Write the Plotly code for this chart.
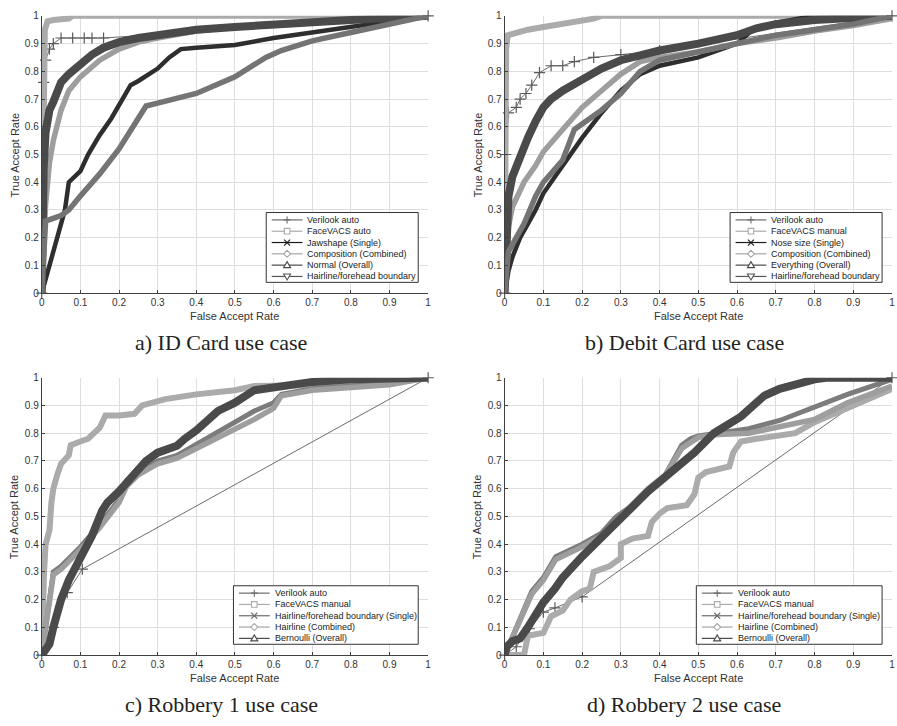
import plotly.graph_objects as go

W, H = 897, 726

TICK_VALS = [0, 0.1, 0.2, 0.3, 0.4, 0.5, 0.6, 0.7, 0.8, 0.9, 1.0]
TICK_TEXT = ['0', '0.1', '0.2', '0.3', '0.4', '0.5', '0.6', '0.7', '0.8', '0.9', '1']
X_TITLE = 'False Accept Rate'
Y_TITLE = 'True Accept Rate'
CAPTIONS = ['a) ID Card use case', 'b) Debit Card use case',
            'c) Robbery 1 use case', 'd) Robbery 2 use case']

# ---------------- Panel a: ID Card ----------------
A_NAMES = ['Verilook auto', 'FaceVACS auto', 'Jawshape (Single)',
           'Composition (Combined)', 'Normal (Overall)', 'Hairline/forehead boundary']
A_VERILOOK_X = [0, 0.005, 0.01, 0.02, 0.03, 0.05, 0.08, 0.11, 0.13, 0.16, 1.0]
A_VERILOOK_Y = [0, 0.76, 0.84, 0.88, 0.90, 0.92, 0.92, 0.92, 0.92, 0.92, 1.0]
A_FACEVACS_X = [0, 0.002, 0.004, 0.008, 0.015, 0.03, 0.07, 0.08, 1.0]
A_FACEVACS_Y = [0, 0.45, 0.80, 0.95, 0.98, 0.985, 0.99, 1.0, 1.0]
A_JAW_X = [0, 0.01, 0.03, 0.05, 0.06, 0.07, 0.1, 0.12, 0.15, 0.18, 0.2, 0.23, 0.25, 0.28,
           0.3, 0.33, 0.36, 0.4, 0.5, 0.6, 0.7, 0.8, 0.9, 1.0]
A_JAW_Y = [0, 0.05, 0.14, 0.24, 0.30, 0.40, 0.44, 0.50, 0.57, 0.63, 0.68, 0.75, 0.765, 0.79,
           0.81, 0.85, 0.88, 0.885, 0.895, 0.92, 0.94, 0.96, 0.98, 1.0]
A_COMP_X = [0, 0.005, 0.01, 0.02, 0.03, 0.05, 0.07, 0.1, 0.15, 0.2, 0.25, 0.3, 0.4, 0.5,
            0.6, 0.7, 0.8, 0.9, 1.0]
A_COMP_Y = [0, 0.20, 0.32, 0.47, 0.55, 0.66, 0.73, 0.78, 0.84, 0.88, 0.905, 0.92, 0.945,
            0.96, 0.97, 0.978, 0.985, 0.992, 1.0]
A_NORMAL_X = [0, 0.002, 0.005, 0.01, 0.02, 0.03, 0.05, 0.07, 0.1, 0.13, 0.16, 0.2, 0.25,
              0.3, 0.4, 0.5, 0.6, 0.7, 0.8, 0.9, 1.0]
A_NORMAL_Y = [0, 0.30, 0.45, 0.58, 0.66, 0.69, 0.76, 0.79, 0.825, 0.86, 0.885, 0.905, 0.92,
              0.93, 0.95, 0.96, 0.97, 0.978, 0.985, 0.992, 1.0]
A_HAIR_X = [0, 0.01, 0.05, 0.07, 0.1, 0.15, 0.2, 0.25, 0.27, 0.3, 0.35, 0.4, 0.5, 0.58,
            0.62, 0.7, 0.8, 0.9, 1.0]
A_HAIR_Y = [0, 0.26, 0.28, 0.30, 0.35, 0.43, 0.52, 0.63, 0.675, 0.685, 0.70, 0.72, 0.78,
            0.85, 0.875, 0.91, 0.94, 0.97, 1.0]

# ---------------- Panel b: Debit Card ----------------
B_NAMES = ['Verilook auto', 'FaceVACS manual', 'Nose size (Single)',
           'Composition (Combined)', 'Everything (Overall)', 'Hairline/forehead boundary']
B_VERILOOK_X = [0, 0.003, 0.01, 0.03, 0.04, 0.055, 0.07, 0.09, 0.12, 0.15, 0.18, 0.23, 0.3,
                0.4, 1.0]
B_VERILOOK_Y = [0, 0.50, 0.65, 0.67, 0.70, 0.72, 0.75, 0.795, 0.82, 0.82, 0.835, 0.85, 0.86,
                0.875, 1.0]
B_FACEVACS_X = [0, 0.002, 0.004, 0.008, 0.03, 0.06, 0.1, 0.15, 0.2, 0.23, 0.25, 1.0]
B_FACEVACS_Y = [0, 0.50, 0.88, 0.93, 0.94, 0.95, 0.96, 0.97, 0.98, 0.99, 1.0, 1.0]
B_NOSE_X = [0, 0.01, 0.02, 0.04, 0.06, 0.08, 0.1, 0.13, 0.16, 0.2, 0.25, 0.3, 0.35, 0.4,
            0.5, 0.6, 0.64, 0.7, 0.8, 1.0]
B_NOSE_Y = [0, 0.08, 0.13, 0.20, 0.25, 0.30, 0.36, 0.42, 0.48, 0.56, 0.65, 0.73, 0.79, 0.82,
            0.85, 0.90, 0.95, 0.975, 1.0, 1.0]
B_COMP_X = [0, 0.005, 0.01, 0.02, 0.05, 0.08, 0.1, 0.15, 0.2, 0.25, 0.3, 0.35, 0.4, 0.5,
            0.6, 0.7, 0.8, 0.9, 1.0]
B_COMP_Y = [0, 0.15, 0.24, 0.31, 0.40, 0.46, 0.51, 0.59, 0.67, 0.73, 0.79, 0.835, 0.85,
            0.87, 0.90, 0.92, 0.945, 0.965, 0.99]
B_EVERY_X = [0, 0.003, 0.01, 0.02, 0.04, 0.06, 0.08, 0.1, 0.12, 0.15, 0.2, 0.25, 0.3, 0.35,
             0.4, 0.5, 0.6, 0.65, 0.7, 0.8, 0.9, 1.0]
B_EVERY_Y = [0, 0.20, 0.35, 0.42, 0.50, 0.56, 0.62, 0.67, 0.70, 0.73, 0.77, 0.81, 0.84,
             0.86, 0.875, 0.90, 0.93, 0.955, 0.97, 0.985, 0.995, 1.0]
B_HAIR_X = [0, 0.01, 0.03, 0.05, 0.08, 0.1, 0.15, 0.18, 0.2, 0.25, 0.3, 0.35, 0.4, 0.5,
            0.6, 0.7, 0.8, 0.9, 1.0]
B_HAIR_Y = [0, 0.15, 0.20, 0.25, 0.35, 0.40, 0.48, 0.59, 0.61, 0.66, 0.72, 0.80, 0.84,
            0.87, 0.90, 0.93, 0.95, 0.97, 1.0]

# ---------------- Panel c: Robbery 1 ----------------
C_NAMES = ['Verilook auto', 'FaceVACS manual', 'Hairline/forehead boundary (Single)',
           'Hairline (Combined)', 'Bernoulli (Overall)']
C_VERILOOK_X = [0, 0.03, 0.066, 0.105, 1.0]
C_VERILOOK_Y = [0, 0.10, 0.225, 0.31, 1.0]
C_FACEVACS_X = [0, 0.003, 0.006, 0.01, 0.02, 0.025, 0.03, 0.04, 0.05, 0.07, 0.075, 0.1,
                0.12, 0.15, 0.165, 0.2, 0.24, 0.26, 0.32, 0.4, 0.5, 0.55, 0.6, 0.7, 0.8,
                0.9, 1.0]
C_FACEVACS_Y = [0, 0.20, 0.30, 0.40, 0.45, 0.55, 0.60, 0.65, 0.69, 0.72, 0.757, 0.77, 0.78,
                0.82, 0.864, 0.864, 0.87, 0.90, 0.923, 0.94, 0.955, 0.97, 0.97, 0.972,
                0.975, 0.98, 1.0]
C_SINGLE_X = [0, 0.01, 0.03, 0.05, 0.08, 0.1, 0.15, 0.2, 0.22, 0.25, 0.3, 0.35, 0.4, 0.45,
              0.5, 0.55, 0.6, 0.62, 0.7, 0.8, 0.9, 1.0]
C_SINGLE_Y = [0, 0.10, 0.30, 0.32, 0.36, 0.39, 0.47, 0.56, 0.63, 0.66, 0.70, 0.72, 0.76,
              0.80, 0.84, 0.88, 0.91, 0.94, 0.96, 0.97, 0.98, 1.0]
C_COMB_X = [0, 0.01, 0.03, 0.05, 0.08, 0.1, 0.15, 0.2, 0.22, 0.25, 0.3, 0.35, 0.4, 0.45,
            0.5, 0.55, 0.6, 0.62, 0.7, 0.8, 0.9, 1.0]
C_COMB_Y = [0, 0.10, 0.29, 0.31, 0.35, 0.38, 0.46, 0.55, 0.61, 0.65, 0.69, 0.71, 0.745,
            0.78, 0.81, 0.85, 0.89, 0.935, 0.955, 0.965, 0.975, 1.0]
C_BERN_X = [0, 0.02, 0.03, 0.05, 0.07, 0.1, 0.13, 0.156, 0.17, 0.2, 0.24, 0.27, 0.3, 0.35,
            0.37, 0.4, 0.456, 0.5, 0.55, 0.6, 0.65, 0.7, 0.8, 0.9, 1.0]
C_BERN_Y = [0, 0.04, 0.10, 0.20, 0.27, 0.35, 0.43, 0.52, 0.55, 0.59, 0.65, 0.70, 0.73,
            0.755, 0.78, 0.81, 0.88, 0.91, 0.955, 0.965, 0.975, 0.985, 0.995, 1.0, 1.0]

# ---------------- Panel d: Robbery 2 ----------------
D_NAMES = ['Verilook auto', 'FaceVACS manual', 'Hairline/forehead boundary (Single)',
           'Hairline (Combined)', 'Bernoulli (Overall)']
D_VERILOOK_X = [0, 0.03, 0.064, 0.1, 0.13, 0.2, 1.0]
D_VERILOOK_Y = [0, 0.03, 0.095, 0.155, 0.17, 0.21, 1.0]
D_FACEVACS_X = [0, 0.05, 0.06, 0.1, 0.12, 0.15, 0.17, 0.2, 0.22, 0.23, 0.25, 0.27, 0.3,
                0.3, 0.33, 0.37, 0.38, 0.4, 0.42, 0.47, 0.49, 0.5, 0.52, 0.55, 0.58, 0.59,
                0.61, 0.65, 0.7, 0.75, 0.8, 0.85, 0.9, 1.0]
D_FACEVACS_Y = [0, 0.0, 0.07, 0.08, 0.14, 0.16, 0.20, 0.23, 0.24, 0.30, 0.31, 0.32, 0.35,
                0.40, 0.42, 0.43, 0.48, 0.51, 0.53, 0.54, 0.58, 0.64, 0.66, 0.67, 0.68,
                0.73, 0.77, 0.78, 0.79, 0.80, 0.84, 0.87, 0.90, 0.96]
D_SINGLE_X = [0, 0.03, 0.05, 0.07, 0.1, 0.132, 0.2, 0.25, 0.286, 0.35, 0.415, 0.457, 0.48,
              0.5, 0.55, 0.63, 0.71, 0.8, 0.885, 1.0]
D_SINGLE_Y = [0, 0.10, 0.17, 0.23, 0.28, 0.355, 0.40, 0.44, 0.497, 0.56, 0.65, 0.757,
              0.78, 0.79, 0.80, 0.816, 0.846, 0.893, 0.94, 0.994]
D_COMB_X = [0, 0.03, 0.05, 0.07, 0.1, 0.132, 0.2, 0.25, 0.286, 0.37, 0.415, 0.457, 0.5,
            0.55, 0.63, 0.71, 0.8, 0.885, 1.0]
D_COMB_Y = [0, 0.09, 0.16, 0.22, 0.27, 0.345, 0.39, 0.43, 0.48, 0.60, 0.65, 0.745, 0.785,
            0.795, 0.80, 0.822, 0.85, 0.91, 0.97]
D_BERN_X = [0, 0.005, 0.02, 0.04, 0.06, 0.08, 0.1, 0.13, 0.15, 0.2, 0.25, 0.303, 0.37,
            0.457, 0.49, 0.54, 0.61, 0.67, 0.71, 0.8, 0.83, 1.0]
D_BERN_Y = [0, 0.03, 0.05, 0.06, 0.10, 0.15, 0.19, 0.24, 0.28, 0.355, 0.42, 0.497, 0.59,
            0.69, 0.73, 0.80, 0.86, 0.935, 0.96, 0.994, 1.0, 1.0]

# ---------------- styles ----------------
STYLES = {
    'verilook': dict(color='#6c6c6c', width=1, mcolor='#5a5a5a', symbol='plus', msize=8),
    'facevacs': dict(color='#ababab', width=6, symbol='square'),
    'single_dark': dict(color='#2e2e2e', width=4.5, symbol='x'),
    'single_gray': dict(color='#7c7c7c', width=5, symbol='x'),
    'combined': dict(color='#9e9e9e', width=5.5, symbol='diamond'),
    'overall': dict(color='#4a4a4a', width=8, symbol='tri_up'),
    'hairline': dict(color='#747474', width=5.5, symbol='tri_down'),
}
LEGEND_LINE = {
    'verilook': '#6c6c6c', 'facevacs': '#ababab', 'single_dark': '#1a1a1a',
    'single_gray': '#6c6c6c', 'combined': '#a5a5a5', 'overall': '#4a4a4a', 'hairline': '#555555',
}

PANELS = [
    dict(names=A_NAMES,
         series=[(A_VERILOOK_X, A_VERILOOK_Y), (A_FACEVACS_X, A_FACEVACS_Y), (A_JAW_X, A_JAW_Y),
                 (A_COMP_X, A_COMP_Y), (A_NORMAL_X, A_NORMAL_Y), (A_HAIR_X, A_HAIR_Y)],
         styles=['verilook', 'facevacs', 'single_dark', 'combined', 'overall', 'hairline'],
         box=(39, 428, 10, 292), legw=153),
    dict(names=B_NAMES,
         series=[(B_VERILOOK_X, B_VERILOOK_Y), (B_FACEVACS_X, B_FACEVACS_Y), (B_NOSE_X, B_NOSE_Y),
                 (B_COMP_X, B_COMP_Y), (B_EVERY_X, B_EVERY_Y), (B_HAIR_X, B_HAIR_Y)],
         styles=['verilook', 'facevacs', 'single_dark', 'combined', 'overall', 'hairline'],
         box=(505, 895, 10, 292), legw=153),
    dict(names=C_NAMES,
         series=[(C_VERILOOK_X, C_VERILOOK_Y), (C_FACEVACS_X, C_FACEVACS_Y),
                 (C_SINGLE_X, C_SINGLE_Y), (C_COMB_X, C_COMB_Y), (C_BERN_X, C_BERN_Y)],
         styles=['verilook', 'facevacs', 'single_gray', 'combined', 'overall'],
         box=(39, 428, 378, 660), legw=186),
    dict(names=D_NAMES,
         series=[(D_VERILOOK_X, D_VERILOOK_Y), (D_FACEVACS_X, D_FACEVACS_Y),
                 (D_SINGLE_X, D_SINGLE_Y), (D_COMB_X, D_COMB_Y), (D_BERN_X, D_BERN_Y)],
         styles=['verilook', 'facevacs', 'single_gray', 'combined', 'overall'],
         box=(505, 895, 378, 660), legw=187),
]

SYMBOL_PATHS = {
    'plus': 'M -3.5,0 L 3.5,0 M 0,-3.5 L 0,3.5',
    'square': 'M -2.8,-2.8 L 2.8,-2.8 L 2.8,2.8 L -2.8,2.8 Z',
    'x': 'M -3,-3 L 3,3 M -3,3 L 3,-3',
    'diamond': 'M -3.5,0 L 0,3.5 L 3.5,0 L 0,-3.5 Z',
    'tri_up': 'M -3.5,-2.5 L 3.5,-2.5 L 0,3.5 Z',
    'tri_down': 'M -3.5,2.5 L 3.5,2.5 L 0,-3.5 Z',
}


def px_x(p):
    return p / W


def px_y(p):
    return 1 - p / H


fig = go.Figure()
layout = dict(
    width=W, height=H, margin=dict(l=0, r=0, t=0, b=0),
    paper_bgcolor='white', plot_bgcolor='white', showlegend=False,
    font=dict(family='Liberation Sans, Arial, sans-serif', color='#262626'),
)
shapes = []
annotations = []

for i, p in enumerate(PANELS):
    k = '' if i == 0 else str(i + 1)
    xa, ya = 'x' + k, 'y' + k
    x0, x1, y0, y1 = p['box']
    axis_common = dict(
        range=[0, 1], tickmode='array', tickvals=TICK_VALS, ticktext=TICK_TEXT,
        showgrid=True, gridcolor='#dedede', gridwidth=1, zeroline=False,
        showline=True, linecolor='#404040', linewidth=1, mirror=False,
        ticks='inside', ticklen=3, tickcolor='#404040',
        tickfont=dict(size=10, color='#333333', family='Liberation Sans, Arial, sans-serif'),
        fixedrange=True,
    )
    layout['xaxis' + k] = dict(axis_common, domain=[px_x(x0), px_x(x1)], anchor=ya)
    layout['yaxis' + k] = dict(axis_common, domain=[px_y(y1), px_y(y0)], anchor=xa)

    for (xs, ys), name, sk in zip(p['series'], p['names'], p['styles']):
        st = STYLES[sk]
        if sk == 'verilook':
            fig.add_trace(go.Scatter(
                x=xs, y=ys, name=name, mode='lines+markers', xaxis=xa, yaxis=ya,
                line=dict(color=st['color'], width=st['width']),
                marker=dict(symbol='cross-thin', size=st['msize'],
                            line=dict(color=st['mcolor'], width=1.2)),
                cliponaxis=False))
        else:
            fig.add_trace(go.Scatter(
                x=xs, y=ys, name=name, mode='lines', xaxis=xa, yaxis=ya,
                line=dict(color=st['color'], width=st['width'])))

    # axis titles and caption
    cx = (x0 + x1) / 2
    annotations.append(dict(text=X_TITLE, x=px_x(cx), y=px_y(y1 + 23), xref='paper', yref='paper',
                            showarrow=False, xanchor='center', yanchor='middle',
                            font=dict(size=11, color='#333333')))
    annotations.append(dict(text=Y_TITLE, x=px_x(x0 - 27), y=px_y((y0 + y1) / 2), xref='paper',
                            yref='paper', showarrow=False, textangle=-90,
                            xanchor='center', yanchor='middle',
                            font=dict(size=11, color='#333333')))
    annotations.append(dict(text=CAPTIONS[i], x=px_x(cx - 14), y=px_y(y1 + 50), xref='paper',
                            yref='paper', showarrow=False, xanchor='center', yanchor='middle',
                            font=dict(size=22, color='#222222',
                                      family='Liberation Serif, Times New Roman, serif')))

    # manual legend box
    n = len(p['names'])
    lw = p['legw']
    lb_right = x1 - 10
    lb_bottom = y1 - 11
    lb_h = 7.5 + (n - 1) * 11.5 + 6
    lb_top = lb_bottom - lb_h
    lb_left = lb_right - lw
    shapes.append(dict(type='rect', xref='paper', yref='paper',
                       x0=px_x(lb_left), x1=px_x(lb_right), y0=px_y(lb_bottom), y1=px_y(lb_top),
                       line=dict(color='#333333', width=1), fillcolor='white', layer='above'))
    for j, (name, sk) in enumerate(zip(p['names'], p['styles'])):
        ry = lb_top + 7.5 + j * 11.5
        col = LEGEND_LINE[sk]
        shapes.append(dict(type='line', xref='paper', yref='paper',
                           x0=px_x(lb_left + 5.5), x1=px_x(lb_left + 36.5),
                           y0=px_y(ry), y1=px_y(ry), line=dict(color=col, width=1.2),
                           layer='above'))
        sym = STYLES[sk]['symbol']
        shapes.append(dict(type='path', xref='paper', yref='paper',
                           xsizemode='pixel', ysizemode='pixel',
                           xanchor=px_x(lb_left + 21), yanchor=px_y(ry),
                           path=SYMBOL_PATHS[sym], line=dict(color=col, width=1.1),
                           fillcolor='white' if sym not in ('plus', 'x') else None,
                           layer='above'))
        annotations.append(dict(text=name, x=px_x(lb_left + 39.5), y=px_y(ry), xref='paper',
                                yref='paper', showarrow=False, xanchor='left',
                                yanchor='middle', font=dict(size=9, color='#222222')))

layout['shapes'] = shapes
layout['annotations'] = annotations
fig.update_layout(**layout)
fig.write_html('out.html', config={'displayModeBar': False},
               post_script="document.body.style.margin='0';document.body.style.overflow='hidden';")
